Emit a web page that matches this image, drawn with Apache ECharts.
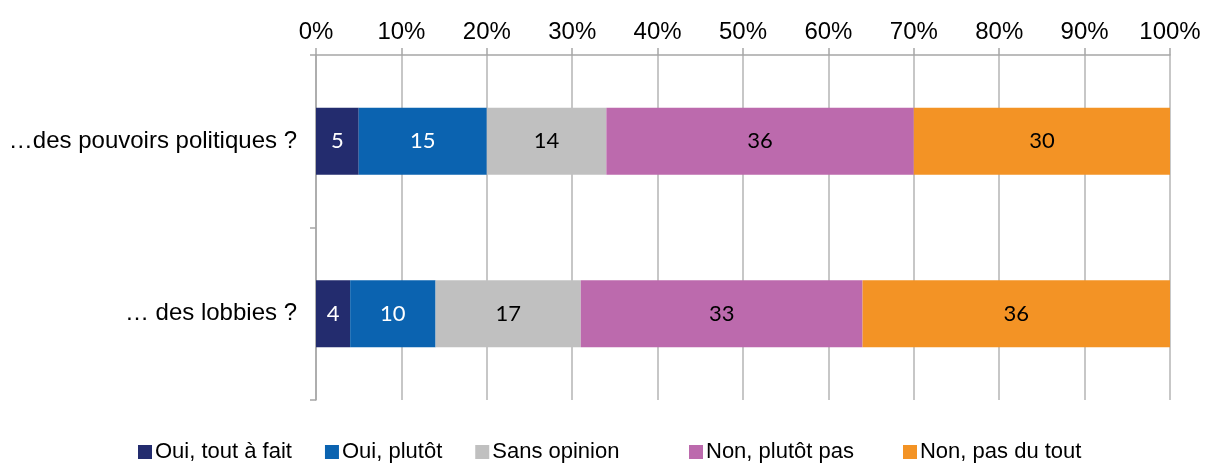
<!DOCTYPE html>
<html>
<head>
<meta charset="utf-8">
<script src="https://cdn.jsdelivr.net/npm/echarts@6/dist/echarts.min.js"></script>
<style>
  html, body { margin: 0; padding: 0; background: #fff; }
  #chart { width: 1211px; height: 464px; }
</style>
</head>
<body>
<div id="chart"></div>
<script>
// questions, top to bottom
const categories = ['…des pouvoirs politiques ?', '… des lobbies ?'];
const seriesNames = ['Oui, tout à fait', 'Oui, plutôt', 'Sans opinion', 'Non, plutôt pas', 'Non, pas du tout'];
const ouiTout = [5, 4];
const ouiPlutot = [15, 10];
const sansOpinion = [14, 17];
const nonPlutot = [36, 33];
const nonPasDuTout = [30, 36];
const colors = ['#232c6e', '#0b63b0', '#c0c0c0', '#bc6aad', '#f39325'];
const labelColors = ['#ffffff', '#ffffff', '#000000', '#000000', '#000000'];

const values = [ouiTout, ouiPlutot, sansOpinion, nonPlutot, nonPasDuTout];

const chart = echarts.init(document.getElementById('chart'));

const series = seriesNames.map((name, i) => ({
    name: name,
    type: 'bar',
    stack: 'total',
    barWidth: 67,
    data: values[i],
    itemStyle: { color: colors[i] },
    label: {
        show: true,
        position: 'inside',
        color: labelColors[i],
        fontFamily: 'Lato',
        fontSize: 22
    }
}));

// legend style shared by the two parts (excel spaces them unevenly)
const legendBase = {
    bottom: -4,
    itemWidth: 14,
    itemHeight: 14,
    itemGap: 33,
    icon: 'rect',
    textStyle: { fontSize: 22, color: '#000', fontFamily: 'Liberation Sans', padding: [0, 0, 0, -2] }
};

const option = {
    animation: false,
    textStyle: { fontFamily: 'Liberation Sans' },
    grid: { left: 316, right: 41, top: 55, bottom: 64 },
    legend: [
        Object.assign({}, legendBase, { left: 133, data: seriesNames.slice(0, 3) }),
        Object.assign({}, legendBase, { left: 684, itemGap: 49, data: seriesNames.slice(3) })
    ],
    xAxis: {
        type: 'value',
        position: 'top',
        min: 0,
        max: 100,
        interval: 10,
        axisLine: { show: true, lineStyle: { color: '#a6a6a6', width: 1.5 } },
        axisTick: { show: true, length: 7, lineStyle: { color: '#a6a6a6', width: 1.5 } },
        splitLine: { show: true, lineStyle: { color: '#b4b4b4', width: 1.5 } },
        axisLabel: { formatter: '{value}%', fontSize: 24, color: '#000', margin: 11 }
    },
    yAxis: {
        type: 'category',
        inverse: true,
        data: categories,
        axisLine: { show: true, lineStyle: { color: '#a6a6a6', width: 1.5 } },
        axisTick: { show: true, length: 6, lineStyle: { color: '#a6a6a6', width: 1.5 } },
        axisLabel: { fontSize: 24, color: '#000', margin: 19 }
    },
    series: series
};

chart.setOption(option);
</script>
</body>
</html>
